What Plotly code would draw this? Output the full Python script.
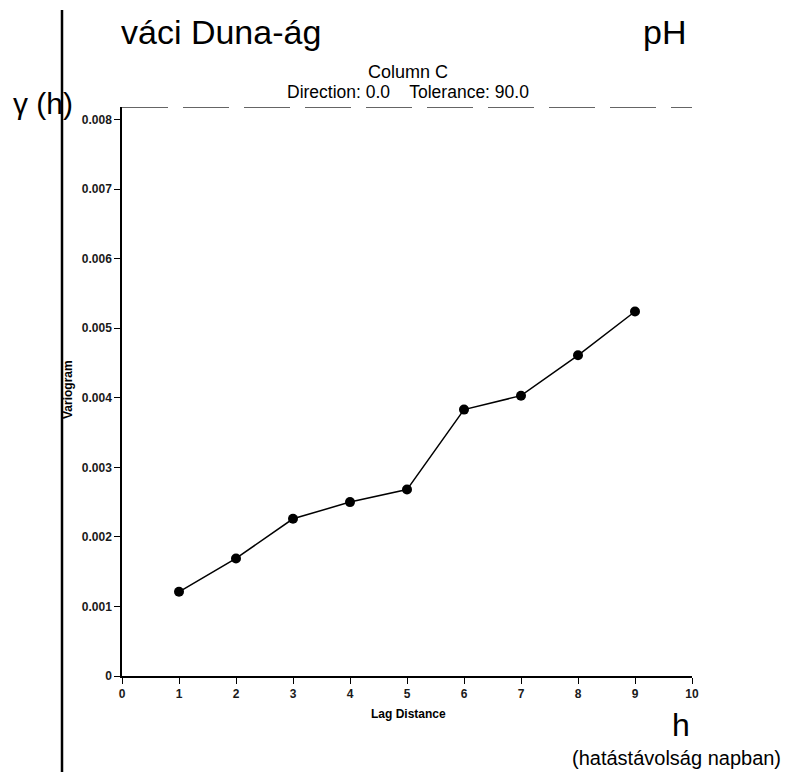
import plotly.graph_objects as go

lag = [1, 2, 3, 4, 5, 6, 7, 8, 9]
variogram = [0.00121, 0.00169, 0.00226, 0.00250, 0.00268, 0.00383, 0.00403, 0.00461, 0.00524]
sill = 0.00818
x_ticks = [0, 1, 2, 3, 4, 5, 6, 7, 8, 9, 10]
y_ticks = [0, 0.001, 0.002, 0.003, 0.004, 0.005, 0.006, 0.007, 0.008]
y_tick_labels = ["0", "0.001", "0.002", "0.003", "0.004", "0.005", "0.006", "0.007", "0.008"]

# page has an 8px body margin; figure origin sits at (8, 8)
OFF = 8
W, H = 791 - OFF, 775 - OFF
X0, X1, YB, YT = 122, 692, 676, 107  # plot area in page pixels
L, T = X0 - OFF, YT - OFF
R, B = W + OFF - X1, H + OFF - YB
PW, PH = X1 - X0, YB - YT


def px(x):
    return (x - X0) / PW


def py(y):
    return (YB - y) / PH


FONT = "Arial, Liberation Sans, sans-serif"

fig = go.Figure()
fig.add_trace(go.Scatter(
    x=[0, 10], y=[sill, sill], mode="lines",
    line=dict(color="#333333", width=1.3, dash="46px,15px"),
    hoverinfo="skip", showlegend=False, cliponaxis=False,
))
fig.add_trace(go.Scatter(
    x=lag, y=variogram, mode="lines+markers",
    line=dict(color="black", width=1.5),
    marker=dict(color="black", size=10),
    showlegend=False, cliponaxis=False,
))

axis_common = dict(
    showgrid=False, zeroline=False, showline=True, linecolor="black", linewidth=1.5,
    ticks="outside", ticklen=6, tickwidth=1.2, tickcolor="black",
    tickfont=dict(family=FONT, size=12, color="#1a1a1a", weight="bold"),
)
fig.update_xaxes(range=[0, 10], tickvals=x_ticks, **axis_common)
fig.update_yaxes(range=[0, sill], tickvals=y_ticks, ticktext=y_tick_labels, **axis_common)

annots = [
    dict(text="váci Duna-ág", x=px(119), y=py(32), xanchor="left", yanchor="middle", size=34),
    dict(text="pH", x=px(688), y=py(32), xanchor="right", yanchor="middle", size=34),
    dict(text="γ (h)", x=px(11), y=py(104), xanchor="left", yanchor="middle", size=30),
    dict(text="Column C", x=px(408), y=py(72), xanchor="center", yanchor="middle", size=18),
    dict(text="Direction: 0.0    Tolerance: 90.0", x=px(408), y=py(92), xanchor="center", yanchor="middle", size=17.5),
    dict(text="<b>Lag Distance</b>", x=px(408), y=py(714), xanchor="center", yanchor="middle", size=12),
    dict(text="<b>Variogram</b>", x=px(68), y=py(390), xanchor="center", yanchor="middle", size=12, angle=-90),
    dict(text="h", x=px(681), y=py(725), xanchor="center", yanchor="middle", size=32),
    dict(text="(hatástávolság napban)", x=px(676), y=py(758), xanchor="center", yanchor="middle", size=20),
]
for a in annots:
    fig.add_annotation(
        text=a["text"], x=a["x"], y=a["y"], xref="paper", yref="paper",
        xanchor=a["xanchor"], yanchor=a["yanchor"], showarrow=False,
        textangle=a.get("angle", 0),
        font=dict(family=FONT, size=a["size"], color="black"),
    )

fig.add_shape(type="line", xref="paper", yref="paper",
              x0=px(62), x1=px(62), y0=py(10), y1=py(772),
              line=dict(color="black", width=2.5))

fig.update_layout(
    width=W, height=H,
    margin=dict(l=L, r=R, t=T, b=B),
    paper_bgcolor="white", plot_bgcolor="white",
    showlegend=False,
)

fig.write_html("out.html")
